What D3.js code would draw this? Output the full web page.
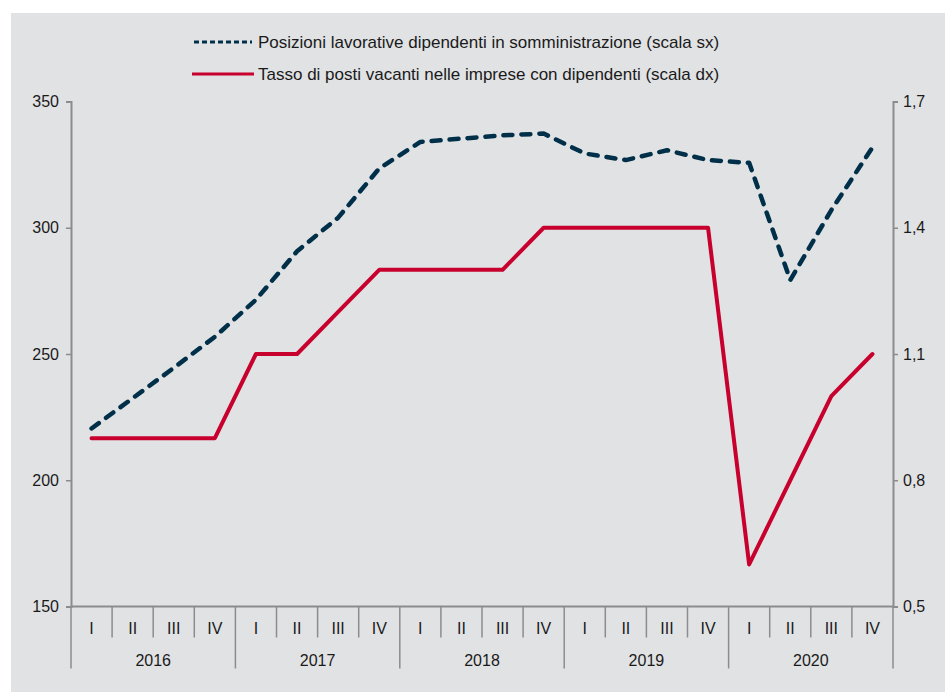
<!DOCTYPE html>
<html>
<head>
<meta charset="utf-8">
<script src="https://cdn.jsdelivr.net/npm/d3@7"></script>
<style>
  body { margin: 0; background: #fff; }
  text { font-family: "Liberation Sans", Arial, sans-serif; fill: #1a1a1a; }
</style>
</head>
<body>
<div id="chart"></div>
<script>
// quarters and years
const years = ['2016', '2017', '2018', '2019', '2020'];
const quarters = ['I', 'II', 'III', 'IV'];

// Posizioni lavorative dipendenti in somministrazione (scala sx)
const posizioni = [220.5, 232.5, 244.5, 256.8, 271.5, 290.7, 304, 323.5,
                   334, 335.3, 336.6, 337.3, 329.4, 326.8, 330.7, 326.8,
                   325.7, 279.3, 307, 331.8];
// Tasso di posti vacanti (scala dx)
const tasso = [0.9, 0.9, 0.9, 0.9, 1.1, 1.1, 1.2, 1.3,
               1.3, 1.3, 1.3, 1.4, 1.4, 1.4, 1.4, 1.4,
               0.6, 0.8, 1.0, 1.1];

const leftTicks = [150, 200, 250, 300, 350];
const rightTicks = [0.5, 0.8, 1.1, 1.4, 1.7];

const labelPos = 'Posizioni lavorative dipendenti in somministrazione (scala sx)';
const labelTasso = 'Tasso di posti vacanti nelle imprese con dipendenti (scala dx)';

const W = 945, H = 692;
const margin = { top: 101.5, right: 52, bottom: 85.5, left: 71 };
const width = W - margin.left - margin.right,
      height = H - margin.top - margin.bottom;

const svg = d3.select('#chart').append('svg')
    .attr('width', W)
    .attr('height', H);

// grey panel
svg.append('rect')
    .attr('x', 11).attr('y', 13)
    .attr('width', W - 11).attr('height', H - 13)
    .attr('fill', '#e1e2e4');

const g = svg.append('g')
    .attr('transform', `translate(${margin.left},${margin.top})`);

const keys = [];
years.forEach(y => quarters.forEach(q => keys.push(y + '-' + q)));

const x = d3.scaleBand().domain(keys).range([0, width]);
const yL = d3.scaleLinear().domain([150, 350]).range([height, 0]);
const yR = d3.scaleLinear().domain([0.5, 1.7]).range([height, 0]);

const axisColor = '#8c8c8c';

// left axis
const axL = g.append('g')
    .call(d3.axisLeft(yL).tickValues(leftTicks).tickSize(5).tickPadding(7));
// right axis
const axR = g.append('g')
    .attr('transform', `translate(${width},0)`)
    .call(d3.axisRight(yR).tickValues(rightTicks).tickSize(5).tickPadding(5)
        .tickFormat(d => d3.format('.1f')(d).replace('.', ',')));

[axL, axR].forEach(ax => {
    ax.select('.domain').attr('stroke', axisColor).attr('stroke-width', 2);
    ax.selectAll('.tick line').attr('stroke', axisColor).attr('stroke-width', 1.5);
    ax.selectAll('.tick text')
        .style('font-size', '16px')
        .style('font-family', '"Liberation Sans", Arial, sans-serif')
        .attr('fill', '#1a1a1a');
});

// x axis baseline
g.append('line')
    .attr('x1', 0).attr('x2', width)
    .attr('y1', height).attr('y2', height)
    .attr('stroke', axisColor).attr('stroke-width', 2);

// category separators
const seps = d3.range(keys.length + 1);
g.selectAll('.sep')
    .data(seps)
    .join('line')
    .attr('class', 'sep')
    .attr('x1', i => i * x.step())
    .attr('x2', i => i * x.step())
    .attr('y1', height)
    .attr('y2', i => (i % 4 === 0) ? height + 62 : height + 31)
    .attr('stroke', axisColor)
    .attr('stroke-width', 1.5);

// quarter labels
g.selectAll('.qlab')
    .data(keys)
    .join('text')
    .attr('class', 'qlab')
    .attr('x', d => x(d) + x.bandwidth() / 2)
    .attr('y', height + 27)
    .attr('text-anchor', 'middle')
    .style('font-size', '16px')
    .text(d => d.split('-')[1]);

// year labels
g.selectAll('.ylab')
    .data(years)
    .join('text')
    .attr('class', 'ylab')
    .attr('x', d => x(d + '-II') + x.bandwidth())
    .attr('y', height + 59)
    .attr('text-anchor', 'middle')
    .style('font-size', '16px')
    .text(d => d);

const cx = (d, i) => x(keys[i]) + x.bandwidth() / 2;

// red line
g.append('path')
    .datum(tasso)
    .attr('fill', 'none')
    .attr('stroke', '#c8002d')
    .attr('stroke-width', 4)
    .attr('stroke-linejoin', 'round')
    .attr('stroke-linecap', 'round')
    .attr('d', d3.line().x(cx).y(d => yR(d)));

// dashed line
g.append('path')
    .datum(posizioni)
    .attr('fill', 'none')
    .attr('stroke', '#003049')
    .attr('stroke-width', 4.5)
    .attr('stroke-linecap', 'round')
    .attr('stroke-linejoin', 'round')
    .attr('stroke-dasharray', '9,9')
    .attr('d', d3.line().x(cx).y(d => yL(d)));

// legend
const legend = svg.append('g');
legend.append('line')
    .attr('x1', 194).attr('x2', 252).attr('y1', 42).attr('y2', 42)
    .attr('stroke', '#003049').attr('stroke-width', 3)
    .attr('stroke-dasharray', '5,3');
legend.append('text')
    .attr('x', 258).attr('y', 48)
    .style('font-size', '17px')
    .text(labelPos);
legend.append('line')
    .attr('x1', 192).attr('x2', 254).attr('y1', 74).attr('y2', 74)
    .attr('stroke', '#c8002d').attr('stroke-width', 3);
legend.append('text')
    .attr('x', 258).attr('y', 80)
    .style('font-size', '17px')
    .text(labelTasso);
</script>
</body>
</html>
